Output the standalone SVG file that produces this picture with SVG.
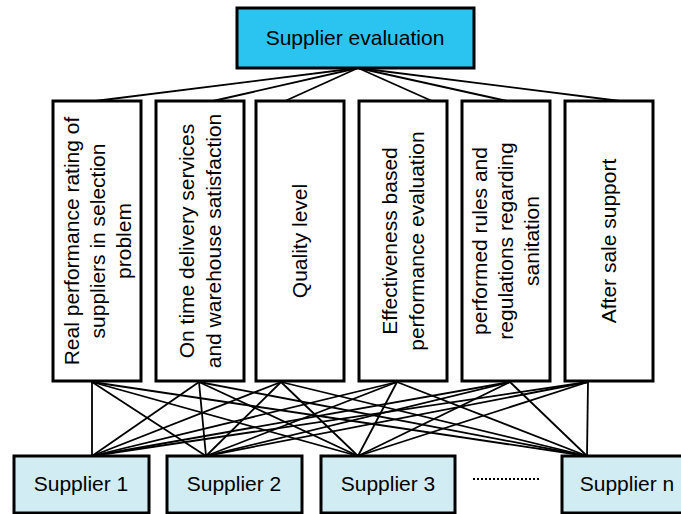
<svg xmlns="http://www.w3.org/2000/svg" width="681" height="514" viewBox="0 0 681 514">
<style>
.box{stroke:#000;stroke-width:3}
.crit{fill:#fff}
.top{fill:#2BC4F1}
.sup{fill:#D1ECF3}
.t{font-family:"Liberation Sans",Arial,sans-serif;font-size:21px;fill:#000;text-anchor:middle}
.c line{stroke:#000;stroke-width:1.8}
</style>
<rect width="681" height="514" fill="#fff"/>
<g id="connectors" class="c">
<line x1="358" y1="68" x2="95" y2="101"/>
<line x1="358" y1="68" x2="213" y2="101"/>
<line x1="358" y1="68" x2="285" y2="101"/>
<line x1="358" y1="68" x2="432" y2="101"/>
<line x1="358" y1="68" x2="507" y2="101"/>
<line x1="358" y1="68" x2="620" y2="101"/>
<line x1="92" y1="382" x2="92" y2="456"/>
<line x1="92" y1="382" x2="206" y2="456"/>
<line x1="92" y1="382" x2="358" y2="456"/>
<line x1="92" y1="382" x2="587" y2="456"/>
<line x1="199" y1="382" x2="92" y2="456"/>
<line x1="199" y1="382" x2="206" y2="456"/>
<line x1="199" y1="382" x2="358" y2="456"/>
<line x1="199" y1="382" x2="587" y2="456"/>
<line x1="281" y1="382" x2="92" y2="456"/>
<line x1="281" y1="382" x2="206" y2="456"/>
<line x1="281" y1="382" x2="358" y2="456"/>
<line x1="281" y1="382" x2="587" y2="456"/>
<line x1="397" y1="382" x2="92" y2="456"/>
<line x1="397" y1="382" x2="206" y2="456"/>
<line x1="397" y1="382" x2="358" y2="456"/>
<line x1="397" y1="382" x2="587" y2="456"/>
<line x1="510" y1="382" x2="92" y2="456"/>
<line x1="510" y1="382" x2="206" y2="456"/>
<line x1="510" y1="382" x2="358" y2="456"/>
<line x1="510" y1="382" x2="587" y2="456"/>
<line x1="588" y1="382" x2="92" y2="456"/>
<line x1="588" y1="382" x2="206" y2="456"/>
<line x1="588" y1="382" x2="358" y2="456"/>
<line x1="588" y1="382" x2="587" y2="456"/>
</g>
<g id="supplier-evaluation">
<rect class="box top" x="237" y="8" width="237" height="60"/>
<text class="t" x="355" y="45">Supplier evaluation</text>
</g>
<g id="c1">
<rect class="box crit" x="53" y="101" width="88" height="280"/>
<text class="t" transform="translate(98,241) rotate(-90)"><tspan x="0" y="-19">Real performance rating of</tspan><tspan x="0" y="7">suppliers in selection</tspan><tspan x="0" y="33">problem</tspan></text>
</g>
<g id="c2">
<rect class="box crit" x="156" y="101" width="88" height="280"/>
<text class="t" transform="translate(200,241) rotate(-90)"><tspan x="0" y="-6">On time delivery services</tspan><tspan x="0" y="21">and warehouse satisfaction</tspan></text>
</g>
<g id="c3">
<rect class="box crit" x="256" y="101" width="88" height="280"/>
<text class="t" transform="translate(300,241) rotate(-90)"><tspan x="0" y="7">Quality level</tspan></text>
</g>
<g id="c4">
<rect class="box crit" x="359" y="101" width="88" height="280"/>
<text class="t" transform="translate(403,241) rotate(-90)"><tspan x="0" y="-6">Effectiveness based</tspan><tspan x="0" y="21">performance evaluation</tspan></text>
</g>
<g id="c5">
<rect class="box crit" x="462" y="101" width="88" height="280"/>
<text class="t" transform="translate(506,241) rotate(-90)"><tspan x="0" y="-19">performed rules and</tspan><tspan x="0" y="7">regulations regarding</tspan><tspan x="0" y="33">sanitation</tspan></text>
</g>
<g id="c6">
<rect class="box crit" x="565" y="101" width="88" height="280"/>
<text class="t" transform="translate(609,241) rotate(-90)"><tspan x="0" y="7">After sale support</tspan></text>
</g>
<g id="s1">
<rect class="box sup" x="14" y="456" width="135" height="57"/>
<text class="t" x="81" y="491">Supplier 1</text>
</g>
<g id="s2">
<rect class="box sup" x="167" y="456" width="135" height="57"/>
<text class="t" x="234" y="491">Supplier 2</text>
</g>
<g id="s3">
<rect class="box sup" x="321" y="456" width="134" height="57"/>
<text class="t" x="388" y="491">Supplier 3</text>
</g>
<g id="dots">
<line x1="473" y1="479" x2="540" y2="479" stroke="#000" stroke-width="2" stroke-dasharray="2,2"/>
</g>
<g id="sn">
<rect class="box sup" x="562" y="456" width="140" height="57"/>
<text class="t" x="627" y="491">Supplier n</text>
</g>
</svg>
